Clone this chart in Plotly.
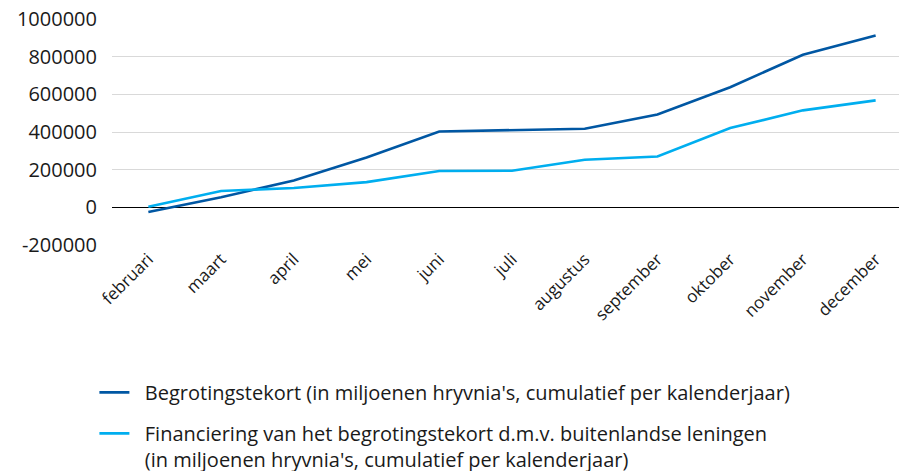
import plotly.graph_objects as go

months = ["februari", "maart", "april", "mei", "juni", "juli", "augustus",
          "september", "oktober", "november", "december"]
tekort = [-25000, 53000, 143000, 265000, 403000, 408000, 417000,
          493000, 638000, 810000, 912000]
financiering = [3000, 87000, 103000, 134000, 193000, 194000, 253000,
                270000, 421000, 515000, 568000]
name_tekort = "Begrotingstekort (in miljoenen hryvnia's, cumulatief per kalenderjaar)"
name_fin = ("Financiering van het begrotingstekort d.m.v. buitenlandse leningen<br>"
            "(in miljoenen hryvnia's, cumulatief per kalenderjaar)")
y_ticks = [-200000, 0, 200000, 400000, 600000, 800000, 1000000]

FONT = "Open Sans"
PAD = "\u00a0\u00a0"
fig = go.Figure()
fig.add_trace(go.Scatter(x=months, y=tekort, mode="lines", name=PAD + name_tekort,
                         legendgroup="a",
                         line=dict(color="#0057a3", width=2.6)))
fig.add_trace(go.Scatter(x=months, y=financiering, mode="lines",
                         name=PAD + name_fin.replace("<br>", "<br>" + PAD),
                         legendgroup="b",
                         line=dict(color="#00aeef", width=2.6)))

fig.update_layout(
    width=907, height=471,
    margin=dict(l=104, r=3, t=11, b=234, autoexpand=False),
    plot_bgcolor="white", paper_bgcolor="white",
    font=dict(family=FONT, size=17, color="#1a1a1a"),
    showlegend=True,
    legend=dict(orientation="v", x=-0.022, xanchor="left",
                y=-0.566, yanchor="top", valign="top",
                font=dict(size=20, family=FONT), itemwidth=30,
                tracegroupgap=12, bgcolor="rgba(0,0,0,0)"),
)
fig.update_xaxes(type="category", range=[-0.5, 10.5], tickangle=-45,
                 showgrid=False, showline=False,
                 ticks="", tickfont=dict(size=17, family=FONT))
fig.update_yaxes(range=[-200000, 1000000], tickvals=y_ticks,
                 ticktext=[str(v) for v in y_ticks],
                 ticklabeloverflow="allow", ticklabelstandoff=14,
                 showgrid=True, gridcolor="#d9d9d9", gridwidth=1,
                 zeroline=True, zerolinecolor="#000000", zerolinewidth=1.3,
                 ticks="", ticklen=0, tickfont=dict(size=20, family=FONT))

fig.write_html("out.html")
